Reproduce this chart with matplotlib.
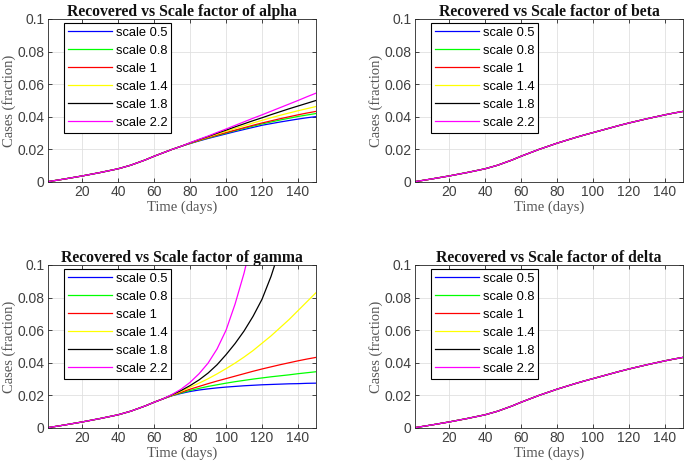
import numpy as np
import matplotlib
matplotlib.use("Agg")
import matplotlib.pyplot as plt

# time grid (days) and curves
days = [1, 10, 20, 30, 40, 47, 55, 60, 65, 70, 75, 80, 85, 90, 95, 100,
        105, 110, 115, 120, 125, 130, 135, 140, 145, 150]

base = [0.0002, 0.0018, 0.0037, 0.0058, 0.0081, 0.0103, 0.0135, 0.0158, 0.0179, 0.0200,
        0.0219, 0.0238, 0.0255, 0.0272, 0.0288, 0.0303, 0.0318, 0.0333, 0.0348, 0.0362,
        0.0375, 0.0388, 0.0400, 0.0412, 0.0423, 0.0433]
head = base[:11]  # shared part up to day 75

alpha_05 = head + [0.0236, 0.0252, 0.0267, 0.0281, 0.0295, 0.0309, 0.0322, 0.0335, 0.0348,
                   0.0358, 0.0368, 0.0377, 0.0386, 0.0394, 0.0401]
alpha_08 = head + [0.0237, 0.0254, 0.0270, 0.0285, 0.0300, 0.0315, 0.0329, 0.0343, 0.0356,
                   0.0368, 0.0380, 0.0391, 0.0402, 0.0411, 0.0420]
alpha_14 = head + [0.0239, 0.0258, 0.0276, 0.0294, 0.0311, 0.0328, 0.0345, 0.0362, 0.0378,
                   0.0394, 0.0409, 0.0423, 0.0437, 0.0450, 0.0463]
alpha_18 = head + [0.0240, 0.0260, 0.0279, 0.0299, 0.0318, 0.0338, 0.0357, 0.0376, 0.0394,
                   0.0413, 0.0431, 0.0449, 0.0466, 0.0483, 0.0500]
alpha_22 = head + [0.0241, 0.0262, 0.0282, 0.0304, 0.0325, 0.0347, 0.0369, 0.0391, 0.0412,
                   0.0434, 0.0456, 0.0478, 0.0500, 0.0523, 0.0545]

ghead = base[:9]  # shared part up to day 65
gamma_05 = ghead + [0.0198, 0.0212, 0.0224, 0.0233, 0.0240, 0.0246, 0.0251, 0.0255, 0.0259,
                    0.0262, 0.0265, 0.0267, 0.0269, 0.0271, 0.0272, 0.0274, 0.0275]
gamma_08 = ghead + [0.0199, 0.0215, 0.0230, 0.0243, 0.0255, 0.0265, 0.0275, 0.0284, 0.0292,
                    0.0300, 0.0307, 0.0314, 0.0320, 0.0326, 0.0333, 0.0339, 0.0345]
gamma_14 = ghead + [0.0202, 0.0225, 0.0250, 0.0275, 0.0302, 0.0332, 0.0364, 0.0398, 0.0435,
                    0.0475, 0.0520, 0.0565, 0.0615, 0.0665, 0.0720, 0.0775, 0.0830]
gamma_18 = ghead + [0.0204, 0.0230, 0.0260, 0.0295, 0.0337, 0.0388, 0.0450, 0.0518, 0.0595,
                    0.0685, 0.0790, 0.0930, 0.1100, 0.1300, 0.1500, 0.1700, 0.1900]
gamma_22 = ghead + [0.0206, 0.0238, 0.0280, 0.0333, 0.0398, 0.0485, 0.0600, 0.0760, 0.0950,
                    0.1180, 0.1420, 0.1650, 0.1900, 0.2150, 0.2400, 0.2650, 0.2900]

labels = ['scale 0.5', 'scale 0.8', 'scale 1', 'scale 1.4', 'scale 1.8', 'scale 2.2']
colors = ['#0000ff', '#00ff00', '#ff0000', '#ffff00', '#000000', '#ff00ff']

panels = [
    ('Recovered vs Scale factor of alpha', [alpha_05, alpha_08, base, alpha_14, alpha_18, alpha_22]),
    ('Recovered vs Scale factor of beta', [base] * 6),
    ('Recovered vs Scale factor of gamma', [gamma_05, gamma_08, base, gamma_14, gamma_18, gamma_22]),
    ('Recovered vs Scale factor of delta', [base] * 6),
]

# axes boxes in figure fractions (left, bottom, width, height)
boxes = [(0.0701, 0.6128, 0.3912, 0.3468),
         (0.6058, 0.6128, 0.3912, 0.3468),
         (0.0701, 0.0894, 0.3912, 0.3468),
         (0.6058, 0.0894, 0.3912, 0.3468)]

fig = plt.figure(figsize=(6.85, 4.70), dpi=100)
axcol = '#262626'

for (title, series), box in zip(panels, boxes):
    ax = fig.add_axes(box)
    for y, c, lab in zip(series, colors, labels):
        ax.plot(days, y, color=c, lw=0.9, label=lab)
    ax.set_xlim(1, 150)
    ax.set_ylim(0, 0.1)
    ax.set_xticks([20, 40, 60, 80, 100, 120, 140])
    ax.set_yticks([0, 0.02, 0.04, 0.06, 0.08, 0.1])
    ax.set_yticklabels(['0', '0.02', '0.04', '0.06', '0.08', '0.1'])
    ax.grid(True, color='#e0e0e0', lw=0.6)
    ax.set_axisbelow(True)
    ax.tick_params(direction='in', top=True, right=True, length=3, width=0.6,
                   colors=axcol, labelsize=10, pad=2.5)
    for lbl in ax.get_xticklabels() + ax.get_yticklabels():
        lbl.set_family('Liberation Sans')
        lbl.set_color('#404040')
    for s in ax.spines.values():
        s.set_color(axcol)
        s.set_linewidth(0.6)
    ax.set_title(title, fontfamily='Liberation Serif', fontweight='bold',
                 fontsize=11.3, color='#111111', pad=2)
    ax.set_xlabel('Time (days)', fontfamily='Liberation Serif', fontsize=10.5,
                  color='#555555', labelpad=1)
    ax.set_ylabel('Cases (fraction)', fontfamily='Liberation Serif', fontsize=10.5,
                  color='#555555', labelpad=1)
    leg = ax.legend(loc='upper left', bbox_to_anchor=(0.06, 0.975), fancybox=False,
                    edgecolor='black', framealpha=1, handlelength=3.4,
                    prop={'family': 'Liberation Sans', 'size': 9.3},
                    labelspacing=0.46, borderpad=0.3, handletextpad=0.3, borderaxespad=0)
    leg.get_frame().set_linewidth(0.8)

fig.savefig('out.png', dpi=100)
